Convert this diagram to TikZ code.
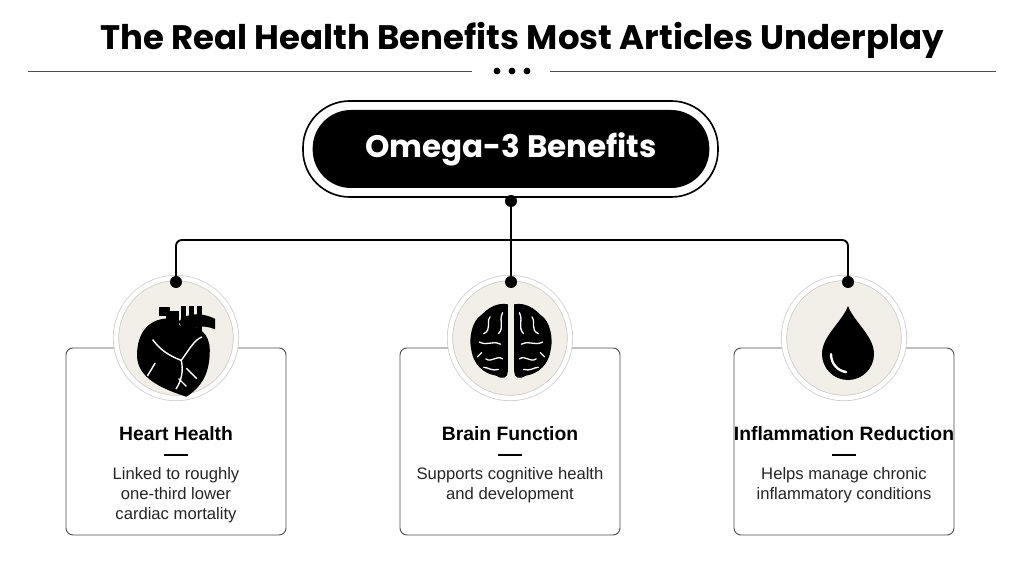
\documentclass[tikz,border=0pt]{standalone}
\usepackage{fontspec}
\setmainfont{Liberation Sans}
\newfontfamily\headfont{Poppins}
\usetikzlibrary{positioning}
\definecolor{beige}{HTML}{F2EEE8}
\definecolor{rim}{HTML}{C8C8C8}
\begin{document}
\begin{tikzpicture}[x=0.3mm,y=-0.3mm]
		% Estilos
		\tikzset{
			card/.style={draw=black!70, line width=0.8pt, rounded corners=6pt, fill=white},
			badge/.style={circle, draw=rim, line width=0.6pt, fill=beige, minimum size=36mm, double=white, double distance=1.4mm},
			heading/.style={font=\fontsize{16.5}{18}\selectfont\bfseries},
			desc/.style={font=\fontsize{14.2}{17}\selectfont, align=center, text=black!85},
			link/.style={line width=1.6pt},
			dot/.style={circle, fill=black, inner sep=0pt, minimum size=3.6mm}
		}
		\useasboundingbox (0,0) rectangle (1024,576);
		% Titulo
		\node (title) at (522,40) {\headfont\fontsize{29}{32}\selectfont\bfseries The Real Health Benefits Most Articles Underplay};
		\draw[black!70, line width=0.6pt] (28,71) -- (472,71) (550,71) -- (996,71);
		\foreach \x in {497,512,527} \fill (\x,71) circle (3.4);
		% No central
		\draw[line width=1.4pt, rounded corners=14mm] (303,101) rectangle (718,197);
		\node (root) [fill=black, rounded corners=11.5mm, minimum width=119mm, minimum height=23.4mm, text=white] at (511,149)
			{\headfont\fontsize{26.5}{30}\selectfont\bfseries Omega-3 Benefits};
		% Cartoes
		\foreach \cx/\nm in {176/heart,510/brain,844/drop} {
			\draw[card] (\cx-110,348) rectangle (\cx+110,535);
			\node (\nm) [badge] at (\cx,338) {};
		}
		% Ligacoes
		\node (d0) [dot] at (511,201) {};
		\node (d1) [dot] at (176,282) {};
		\node (d2) [dot] at (511,282) {};
		\node (d3) [dot] at (848,282) {};
		\draw[link] (d0) -- (d2);
		\draw[link, rounded corners=5pt] (d1) -- (176,240) -- (848,240) -- (d3);
		% Icone coracao
		\begin{scope}[shift={(176,350)}, scale=1.3]
			\fill (-8,-30) rectangle (2,-8);
			\fill (-13,-33) rectangle (-5,-26);
			\foreach \a in {4,10,16} \fill (\a,-34) rectangle (\a+4,-14);
			\fill (2,-22) .. controls (10,-30) and (22,-28) .. (30,-24) -- (30,-16) .. controls (20,-20) and (12,-18) .. (8,-10) -- cycle;
			\fill (-26,-12) rectangle (-10,-6);
			\fill (-2,-24) .. controls (-20,-26) and (-30,-14) .. (-30,4)
				.. controls (-30,22) and (-10,30) .. (8,36)
				.. controls (20,28) and (26,18) .. (26,0)
				.. controls (26,-12) and (18,-20) .. (4,-18) -- cycle;
			\draw[white, line width=1.2pt] (-18,-8) .. controls (-12,0) and (-6,4) .. (4,8)
				(4,8) .. controls (10,0) and (14,-8) .. (20,-10)
				(4,8) .. controls (6,16) and (4,24) .. (0,30)
				(8,14) -- (16,22) (-16,10) -- (-22,20) (2,22) -- (8,28);
		\end{scope}
		% Icone cerebro
		\begin{scope}[shift={(511,340)}, scale=1.05]
			\fill (-3,-34) .. controls (-14,-36) and (-22,-30) .. (-28,-24)
				.. controls (-38,-18) and (-40,0) .. (-38,8)
				.. controls (-36,24) and (-26,32) .. (-14,34)
				.. controls (-8,38) and (-3,36) .. (-3,30) -- cycle;
			\fill (3,-34) .. controls (14,-36) and (22,-30) .. (28,-24)
				.. controls (38,-18) and (40,0) .. (38,8)
				.. controls (36,24) and (26,32) .. (14,34)
				.. controls (8,38) and (3,36) .. (3,30) -- cycle;
			\foreach \s in {1,-1} {
				\draw[white, line width=1.1pt, line cap=round, xscale=\s]
					(8,-26) .. controls (12,-18) and (6,-12) .. (12,-6)
					(20,-22) .. controls (24,-16) and (18,-10) .. (26,-6)
					(10,4) .. controls (18,0) and (22,6) .. (30,2)
					(8,18) .. controls (14,14) and (18,22) .. (24,18)
					(12,28) .. controls (18,30) and (22,26) .. (26,26)
					(28,12) -- (32,16);
			}
		\end{scope}
		% Icone gota
		\begin{scope}[shift={(848,340)}]
			\fill (0,-34) .. controls (-6,-18) and (-26,-4) .. (-26,14)
				arc (180:0:26) .. controls (26,-4) and (6,-18) .. (0,-34) -- cycle;
			\draw[white, line width=2pt, line cap=round] (-17,14) .. controls (-17,24) and (-10,31) .. (-2,32);
		\end{scope}
		% Textos
		\foreach \cx/\hd/\tx in {176/Heart Health/{Linked to roughly\\one-third lower\\cardiac mortality},
			510/Brain Function/{Supports cognitive health\\and development},
			844/Inflammation Reduction/{Helps manage chronic\\inflammatory conditions}} {
			\node[heading] at (\cx,434) {\hd};
			\draw[line width=1pt] (\cx-12,455) -- (\cx+12,455);
			\node[desc, anchor=north] at (\cx,463) {\tx};
		}
	\end{tikzpicture}
\end{document}
